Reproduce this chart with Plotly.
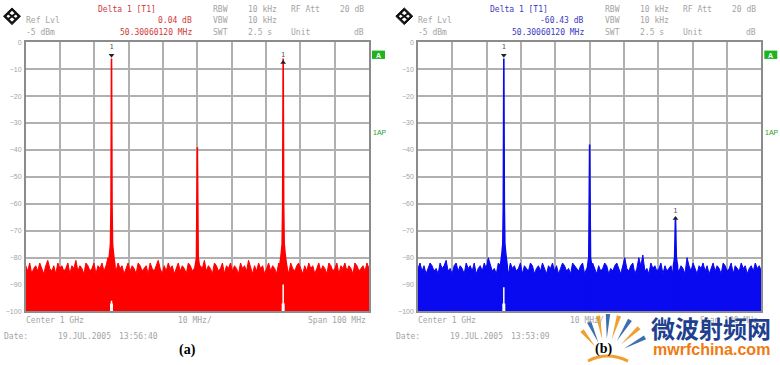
import numpy as np
import plotly.graph_objects as go

W, H = 780, 365

# ---------------- data ----------------
f_start, f_stop = 950.0, 1050.0  # MHz (center 1 GHz, span 100 MHz)
y_ticks = [0, -10, -20, -30, -40, -50, -60, -70, -80, -90, -100]

noise_a = [-83, -85, -82, -86, -84, -83, -85, -82, -84, -86, -83, -81, -84, -85, -83, -86, -82, -84, -83, -85,
           -84, -82, -86, -83, -84, -81, -85, -83, -84, -86, -82, -83, -85, -84, -82, -86, -83, -84, -82, -85,
           -83, -80, -84, -86, -83, -85, -82, -84, -83, -86, -84, -82, -85, -83, -84, -86, -82, -83, -85, -84,
           -83, -86, -82, -84, -85, -83, -81, -84, -86, -83, -85, -82, -84, -83, -86, -84, -82, -85, -83, -84,
           -86, -82, -83, -85, -84, -82, -86, -83, -84, -81, -85, -83, -84, -86, -82, -83, -85, -84, -82, -86,
           -83, -84, -82, -85, -83, -84, -86, -82, -84, -83, -85, -81, -84, -86, -83, -85, -82, -84, -83, -86,
           -84, -82, -85, -83, -84, -86, -82, -83, -85, -84, -83, -86, -82, -84, -85, -83, -82, -84, -86, -83,
           -85, -82, -84, -83, -86, -84, -82, -85, -83, -84, -86, -82, -83, -85, -84, -82, -86, -83, -84, -82,
           -85, -83, -84, -86, -82, -83, -85, -84, -83, -85, -82, -84]
noise_b = [-84, -82, -85, -83, -86, -84, -82, -83, -85, -84, -86, -82, -84, -83, -81, -85, -84, -86, -83, -82,
           -85, -83, -84, -86, -82, -84, -83, -85, -82, -86, -84, -83, -85, -82, -84, -80, -83, -85, -84, -86,
           -82, -83, -84, -85, -83, -86, -82, -84, -83, -85, -84, -82, -86, -83, -84, -85, -82, -83, -86, -84,
           -83, -85, -82, -84, -86, -83, -84, -82, -85, -83, -86, -84, -82, -83, -85, -84, -86, -82, -83, -84,
           -85, -83, -82, -86, -84, -83, -85, -82, -84, -86, -83, -85, -84, -82, -83, -86, -84, -85, -83, -82,
           -84, -86, -83, -80, -84, -85, -83, -82, -86, -84, -80, -83, -79, -85, -84, -86, -82, -84, -83, -85,
           -84, -82, -86, -83, -85, -84, -83, -86, -82, -84, -85, -83, -84, -86, -80, -83, -85, -82, -84, -86,
           -83, -84, -82, -85, -83, -86, -84, -82, -85, -83, -84, -86, -82, -83, -85, -84, -82, -86, -83, -84,
           -85, -82, -84, -83, -86, -84, -83, -85, -82, -84, -83, -85]

# peaks: frequency (MHz), profile offsets (MHz) and levels (dB)
big_offsets = [-1.0, -0.6, -0.3, -0.15, 0.0, 0.15, 0.3, 0.6, 1.0]
big_levels = [-83, -79, -75, -61, -6, -61, -75, -79, -83]
small_offsets = [-0.6, -0.25, 0.0, 0.25, 0.6]
mid_levels_a = [-83, -80, -39, -80, -83]
mid_levels_b = [-83, -80, -38, -80, -83]
third_levels_b = [-83, -80, -65, -80, -83]

peaks_a = [(975.0, big_offsets, big_levels), (1000.0, small_offsets, mid_levels_a), (1025.0, big_offsets, big_levels)]
peaks_b = [(975.0, big_offsets, big_levels), (1000.0, small_offsets, mid_levels_b), (1025.0, small_offsets, third_levels_b)]

# white notches below carriers: freq, top level
notch_a = [(975.0, -96), (1025.0, -90)]
notch_b = [(975.0, -91)]

# markers: freq, level, symbol
markers_a = [(975.0, -6, "triangle-down"), (1025.0, -7, "triangle-up")]
markers_b = [(975.0, -6, "triangle-down"), (1025.0, -65, "triangle-up")]

# ---------------- helpers ----------------
def px(x):
    return x / W

def py(y):
    return 1 - y / H

plot_left_a, plot_right_a = 25.7, 369.0
dx = 392.3
plot_top, plot_bottom = 39.0, 313.5

fig = go.Figure()

panels = [
    dict(noise=noise_a, peaks=peaks_a, notch=notch_a, markers=markers_a, color="#ff0000",
         xa="x", ya="y", off=0.0, accent="#d03a3a", delta="0.04 dB", date_time="13:56:40"),
    dict(noise=noise_b, peaks=peaks_b, notch=notch_b, markers=markers_b, color="#0a0af0",
         xa="x2", ya="y2", off=dx, accent="#3a3ac0", delta="-60.43 dB", date_time="13:53:09"),
]

annotations = []
shapes = []
GRAY = "#a4a4a4"
MONO = "DejaVu Sans Mono"

def txt(x, y, s, color=GRAY, anchor="left", size=8, family=MONO, bold=False):
    annotations.append(dict(x=px(x), y=py(y), xref="paper", yref="paper", text=("<b>%s</b>" % s) if bold else s,
                            showarrow=False, xanchor=anchor, yanchor="middle",
                            font=dict(size=size, color=color, family=family), borderpad=0))

for p in panels:
    noise = p["noise"]
    fx = list(np.linspace(f_start, f_stop, len(noise)))
    fig.add_trace(go.Scatter(x=[f_start] + fx + [f_stop], y=[-100] + noise + [-100], fill="toself",
                             fillcolor=p["color"], mode="lines", line=dict(color=p["color"], width=1),
                             xaxis=p["xa"], yaxis=p["ya"], hoverinfo="skip", showlegend=False))
    for f0, offs, levs in p["peaks"]:
        xs = [f0 + o for o in offs]
        fig.add_trace(go.Scatter(x=[xs[0]] + xs + [xs[-1]], y=[-100] + levs + [-100], fill="toself",
                                 fillcolor=p["color"], mode="lines", line=dict(color=p["color"], width=1.6),
                                 xaxis=p["xa"], yaxis=p["ya"], hoverinfo="skip", showlegend=False))
    for f0, top in p["notch"]:
        fig.add_trace(go.Scatter(x=[f0, f0], y=[-100, top], mode="lines", line=dict(color="white", width=1.5),
                                 xaxis=p["xa"], yaxis=p["ya"], hoverinfo="skip", showlegend=False))
        fig.add_trace(go.Scatter(x=[f0, f0], y=[-100, -97], mode="lines", line=dict(color="white", width=3),
                                 xaxis=p["xa"], yaxis=p["ya"], hoverinfo="skip", showlegend=False))
    for f0, lev, sym in p["markers"]:
        ym = lev + 1.2 if sym == "triangle-down" else lev - 0.5
        fig.add_trace(go.Scatter(x=[f0], y=[ym], mode="markers+text",
                                 marker=dict(symbol=sym, size=5, color="#222222"),
                                 text=["1"], textposition="top center",
                                 textfont=dict(size=7, color="#555555", family=MONO),
                                 xaxis=p["xa"], yaxis=p["ya"], hoverinfo="skip", showlegend=False))

    o = p["off"]
    # header
    txt(97 + o, 6, "Delta 1 [T1]", p["accent"])
    txt(25 + o, 17, "Ref Lvl")
    txt(193 + o, 17, p["delta"], p["accent"], anchor="right")
    txt(25 + o, 29, "-5 dBm")
    txt(193 + o, 29, "50.30060120 MHz", p["accent"], anchor="right")
    txt(212 + o, 6, "RBW"); txt(247 + o, 6, "10 kHz"); txt(290 + o, 6, "RF Att"); txt(365 + o, 6, "20 dB", anchor="right")
    txt(212 + o, 17, "VBW"); txt(247 + o, 17, "10 kHz")
    txt(212 + o, 29, "SWT"); txt(247 + o, 29, "2.5 s"); txt(290 + o, 29, "Unit"); txt(365 + o, 29, "dB", anchor="right")
    # footer
    txt(25 + o, 323, "Center 1 GHz")
    txt(177 + o, 323, "10 MHz/")
    txt(367 + o, 323, "Span 100 MHz", anchor="right")
    txt(3 + o, 339, "Date:")
    txt(57 + o, 339, "19.JUL.2005")
    txt(118 + o, 339, p["date_time"])
    # right side indicators
    shapes.append(dict(type="rect", xref="paper", yref="paper", x0=px(372 + o), x1=px(385 + o),
                       y0=py(56), y1=py(47.5), fillcolor="#1fb41f", line=dict(width=0)))
    txt(378.5 + o, 52, "A", "white", anchor="center", size=7, family="Liberation Sans", bold=True)
    txt(372 + o, 131.5, "1AP", "#1fa01f", size=7, family="Liberation Sans")
    # R&S style logo (diamond)
    cx, cy, r = 12 + o, 12.5, 8.5
    shapes.append(dict(type="path", xref="paper", yref="paper",
                       path="M %f %f L %f %f L %f %f L %f %f Z" % (px(cx - r), py(cy), px(cx), py(cy - r),
                                                                   px(cx + r), py(cy), px(cx), py(cy + r)),
                       fillcolor="#111111", line=dict(color="#111111", width=1)))
    shapes.append(dict(type="path", xref="paper", yref="paper",
                       path="M %f %f L %f %f L %f %f L %f %f Z" % (px(cx - r + 3), py(cy), px(cx), py(cy - r + 3),
                                                                   px(cx + r - 3), py(cy), px(cx), py(cy + r - 3)),
                       fillcolor="white", line=dict(color="white", width=0)))
    shapes.append(dict(type="line", xref="paper", yref="paper", x0=px(cx - 4), y0=py(cy - 3), x1=px(cx + 4), y1=py(cy + 3),
                       line=dict(color="#111111", width=2)))
    shapes.append(dict(type="line", xref="paper", yref="paper", x0=px(cx - 4), y0=py(cy + 3), x1=px(cx + 4), y1=py(cy - 3),
                       line=dict(color="#111111", width=2)))

# captions
txt(187, 353, "(a)", "#000000", anchor="center", size=14, family="Liberation Serif", bold=True)

# watermark logo rays
ray_origin = (607, 362)
rays = [((582, 333), "#f0a030"), ((589, 324), "#3d6fb0"), ((598, 318), "#f0a030"), ((608, 316), "#3d6fb0"),
        ((619, 318), "#f0a030"), ((630, 322), "#3d6fb0"), ((639, 330), "#f0a030"), ((645, 340), "#3d6fb0")]
for (ex, ey), c in rays:
    ox, oy = ray_origin
    vx, vy = ex - ox, ey - oy
    n = (vx ** 2 + vy ** 2) ** 0.5
    nx, ny = -vy / n * 2.2, vx / n * 2.2
    sx, sy = ox + vx * 0.45, oy + vy * 0.45
    shapes.append(dict(type="path", xref="paper", yref="paper",
                       path="M %f %f L %f %f L %f %f Z" % (px(sx - nx * 0.3), py(sy - ny * 0.3), px(ex + nx), py(ey + ny),
                                                           px(ex - nx), py(ey - ny)),
                       fillcolor=c, line=dict(width=0)))
txt(603, 352, "(b)", "#000000", anchor="center", size=14, family="Liberation Serif", bold=True)
shapes.append(dict(type="path", xref="paper", yref="paper",
                   path="M %f %f Q %f %f %f %f" % (px(588), py(364), px(607), py(354), px(628), py(364)),
                   line=dict(color="#f0a030", width=3)))
txt(711, 330, "微波射频网", "#1f3f8f", anchor="center", size=24, family="Noto Sans CJK SC", bold=True)
txt(711, 352, "mwrfchina.com", "#f07a10", anchor="center", size=16, family="Liberation Sans", bold=True)

axis_common = dict(showgrid=True, gridcolor="#b0b0b0", gridwidth=1.5, zeroline=False,
                   showline=True, mirror=True, linecolor="#8c8c8c", linewidth=1.5, ticks="")

fig.update_layout(
    width=W, height=H, margin=dict(l=0, r=0, t=0, b=0),
    paper_bgcolor="white", plot_bgcolor="white",
    showlegend=False,
    xaxis=dict(domain=[px(plot_left_a), px(plot_right_a)], range=[f_start, f_stop], dtick=10, tick0=950,
               showticklabels=False, **axis_common),
    yaxis=dict(domain=[py(plot_bottom), py(plot_top)], range=[-100, 0], tickvals=y_ticks,
               tickfont=dict(size=7, color=GRAY, family="Liberation Sans"), ticklabelstandoff=1, **axis_common),
    xaxis2=dict(domain=[px(plot_left_a + dx), px(plot_right_a + dx)], range=[f_start, f_stop], dtick=10, tick0=950,
                showticklabels=False, anchor="y2", **axis_common),
    yaxis2=dict(domain=[py(plot_bottom), py(plot_top)], range=[-100, 0], tickvals=y_ticks, anchor="x2",
                tickfont=dict(size=7, color=GRAY, family="Liberation Sans"), ticklabelstandoff=1, **axis_common),
    annotations=annotations, shapes=shapes,
)

fig.write_html("out.html", config={"displayModeBar": False},
               post_script="document.body.style.margin='0';document.body.style.padding='0';")
